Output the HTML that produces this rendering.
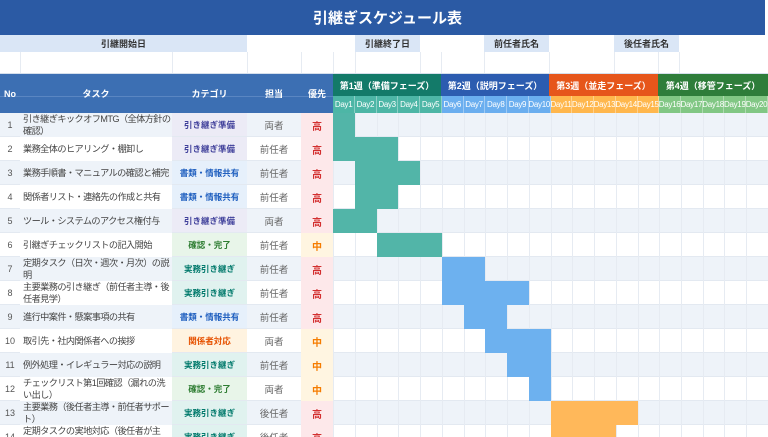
<!DOCTYPE html>
<html style="width:768px;height:437px;overflow:hidden"><head><meta charset="utf-8"><style>
*{margin:0;padding:0;box-sizing:border-box}
body{width:768px;height:437px;overflow:hidden;background:#fff;font-family:"Liberation Sans","Noto Sans CJK JP",sans-serif;position:relative}
.a{position:absolute}
.c{position:absolute;display:flex;align-items:center;justify-content:center;text-align:center}
.t{position:absolute;display:flex;align-items:center;font-size:9.2px;letter-spacing:-0.6px;color:#444;line-height:12px;padding-left:3px;padding-right:0}
.vl{position:absolute;width:1px;background:#e6ebf2}
</style></head><body>
<div class="a" style="left:0;top:0;width:765px;height:35px;background:#2b5aa4"></div>
<div class="a" style="left:313px;top:7px;font-size:15px;font-weight:bold;color:#fff">引継ぎスケジュール表</div>
<div class="c" style="left:0;top:35px;width:247px;height:17px;background:#dae6f6;font-size:9px;color:#333;font-weight:bold">引継開始日</div>
<div class="c" style="left:355px;top:35px;width:65px;height:17px;background:#dae6f6;font-size:9px;color:#333;font-weight:bold">引継終了日</div>
<div class="c" style="left:484px;top:35px;width:65px;height:17px;background:#dae6f6;font-size:9px;color:#333;font-weight:bold">前任者氏名</div>
<div class="c" style="left:614px;top:35px;width:65px;height:17px;background:#dae6f6;font-size:9px;color:#333;font-weight:bold">後任者氏名</div>
<div class="a" style="left:0;top:74px;width:333px;height:39px;background:#3c6fb3"></div>
<div class="a" style="left:0;top:96px;width:333px;height:1px;background:#5a86c2"></div>
<div class="c" style="left:0;top:74px;width:20px;height:39px;color:#fff;font-size:9px;font-weight:bold">No</div>
<div class="c" style="left:20px;top:74px;width:152px;height:39px;color:#fff;font-size:9px;font-weight:bold">タスク</div>
<div class="c" style="left:172px;top:74px;width:75px;height:39px;color:#fff;font-size:9px;font-weight:bold">カテゴリ</div>
<div class="c" style="left:247px;top:74px;width:54px;height:39px;color:#fff;font-size:9px;font-weight:bold">担当</div>
<div class="c" style="left:301px;top:74px;width:32px;height:39px;color:#fff;font-size:9px;font-weight:bold">優先</div>
<div class="c" style="left:333px;top:74px;width:108px;height:22px;background:#137a69;color:#fff;font-size:9px;font-weight:bold">第1週（準備フェーズ）</div>
<div class="c" style="left:441px;top:74px;width:108px;height:22px;background:#2c5cb0;color:#fff;font-size:9px;font-weight:bold">第2週（説明フェーズ）</div>
<div class="c" style="left:549px;top:74px;width:109px;height:22px;background:#e6561b;color:#fff;font-size:9px;font-weight:bold">第3週（並走フェーズ）</div>
<div class="c" style="left:658px;top:74px;width:110px;height:22px;background:#2e7d3a;color:#fff;font-size:9px;font-weight:bold">第4週（移管フェーズ）</div>
<div id="g"></div>
<script>
var h='',L=333.3,W=21.73,bg1='',ln='',bars='',txt='';
var dc=['#4db6a6','#6aaeef','#ffb74d','#81c784'];
for(var d=0;d<20;d++){h+='<div class="c" style="left:'+(L+d*W)+'px;top:96px;width:'+W+'px;height:17px;background:'+dc[Math.floor(d/5)]+';color:#fff;font-size:8px;border-right:1px solid rgba(255,255,255,.35);letter-spacing:-.3px">Day'+(d+1)+'</div>';}
var cat={p:['引き継ぎ準備','#ecebf6','#3f3f9a'],s:['書類・情報共有','#e6f0fb','#1f5fbf'],k:['確認・完了','#e8f5e9','#2e7d32'],j:['実務引き継ぎ','#e0f2ef','#00796b'],r:['関係者対応','#fff3e0','#e65100']};
var rows=[
['引き継ぎキックオフMTG（全体方針の確認）','p','両者','高',1,1,'#52b5a8'],
['業務全体のヒアリング・棚卸し','p','前任者','高',1,3,'#52b5a8'],
['業務手順書・マニュアルの確認と補完','s','前任者','高',2,4,'#52b5a8'],
['関係者リスト・連絡先の作成と共有','s','前任者','高',2,3,'#52b5a8'],
['ツール・システムのアクセス権付与','p','両者','高',1,2,'#52b5a8'],
['引継ぎチェックリストの記入開始','k','前任者','中',3,5,'#52b5a8'],
['定期タスク（日次・週次・月次）の説明','j','前任者','高',6,7,'#6db1ef'],
['主要業務の引き継ぎ（前任者主導・後任者見学）','j','前任者','高',6,9,'#6db1ef'],
['進行中案件・懸案事項の共有','s','前任者','高',7,8,'#6db1ef'],
['取引先・社内関係者への挨拶','r','両者','中',8,10,'#6db1ef'],
['例外処理・イレギュラー対応の説明','j','前任者','中',9,10,'#6db1ef'],
['チェックリスト第1回確認（漏れの洗い出し）','k','両者','中',10,10,'#6db1ef'],
['主要業務（後任者主導・前任者サポート）','j','後任者','高',11,14,'#ffb85a'],
['定期タスクの実地対応（後任者が主導）','j','後任者','高',11,13,'#ffb85a']];
for(var i=0;i<rows.length;i++){var r=rows[i],y=113+i*24,bg=i%2==0?'#eef3f9':'#fff';
bg1+='<div class="a" style="left:0;top:'+y+'px;width:768px;height:24px;background:'+bg+';border-bottom:1px solid #e3e9f1"></div>';
txt+='<div class="c" style="left:0;top:'+y+'px;width:20px;height:24px;font-size:9px;color:#555">'+(i+1)+'</div>';
txt+='<div class="t" style="left:20px;top:'+y+'px;width:152px;height:24px;background:'+bg+'">'+r[0]+'</div>';
var c=cat[r[1]];
txt+='<div class="c" style="left:172px;top:'+y+'px;width:75px;height:24px;background:'+c[1]+';color:'+c[2]+';font-size:8.5px;font-weight:bold;border-bottom:1px solid #e3e9f1">'+c[0]+'</div>';
txt+='<div class="c" style="left:247px;top:'+y+'px;width:54px;height:24px;font-size:9.5px;color:#666">'+r[2]+'</div>';
var hi=r[3]=='高';
txt+='<div class="c" style="left:301px;top:'+y+'px;width:32px;height:24px;background:'+(hi?'#fde8ea':'#fff5e1')+';color:'+(hi?'#d32f2f':'#f57c00')+';font-size:10px;font-weight:bold">'+r[3]+'</div>';
bars+='<div class="a" style="left:'+(L+(r[4]-1)*W)+'px;top:'+y+'px;width:'+((r[5]-r[4]+1)*W)+'px;height:24px;background:'+r[6]+'"></div>';}
for(var d=0;d<=20;d++){ln+='<div class="vl" style="left:'+(L+d*W)+'px;top:113px;height:324px"></div>';}
var xs=[20,172,247,301,333,355,420,441,484,549,614,658,679];
for(var k=0;k<xs.length;k++){ln+='<div class="vl" style="left:'+xs[k]+'px;top:52px;height:22px"></div>';}
document.getElementById('g').innerHTML=h+bg1+ln+txt+bars;
</script>
<div class="a" style="left:0;top:73px;width:768px;height:1px;background:#d5dfec"></div>
</body></html>
